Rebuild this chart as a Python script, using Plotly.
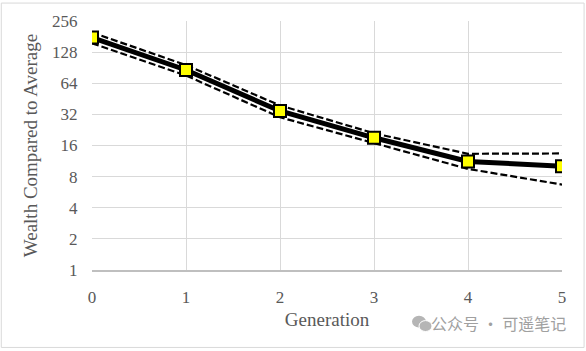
import plotly.graph_objects as go

generation = [0, 1, 2, 3, 4, 5]
wealth_mean = [177, 86, 34.5, 19, 11.2, 10.1]
wealth_upper = [198, 96, 39, 21, 13.3, 13.4]
wealth_lower = [156, 76, 30, 16.8, 9.5, 6.7]
y_ticks = [1, 2, 4, 8, 16, 32, 64, 128, 256]

font_family = "Liberation Serif, serif"
gray = "#595959"

fig = go.Figure()
fig.add_trace(go.Scatter(x=generation, y=wealth_upper, mode="lines",
                         line=dict(color="black", width=2.2, dash="7px,3px"), showlegend=False))
fig.add_trace(go.Scatter(x=generation, y=wealth_lower, mode="lines",
                         line=dict(color="black", width=2.2, dash="7px,3px"), showlegend=False))
fig.add_trace(go.Scatter(x=generation, y=wealth_mean, mode="lines+markers",
                         line=dict(color="black", width=5),
                         marker=dict(symbol="square", size=12, color="#ffff00",
                                     line=dict(color="black", width=2)),
                         showlegend=False))

fig.update_layout(
    width=586, height=351,
    margin=dict(l=92, r=24, t=19, b=81),
    paper_bgcolor="white", plot_bgcolor="white",
    font=dict(family=font_family, color=gray, size=17),
    xaxis=dict(range=[0, 5], tickvals=generation, showgrid=True, gridcolor="#d9d9d9",
               gridwidth=1, zeroline=False, showline=True, linecolor="#bfbfbf", linewidth=1.5,
               ticks="outside", ticklen=11, tickcolor="rgba(0,0,0,0)",
               title=dict(text="Generation", font=dict(size=19), standoff=7)),
    yaxis=dict(type="log", range=[0, 2.40824], tickvals=y_ticks,
               ticktext=[str(v) for v in y_ticks], showgrid=True, gridcolor="#d9d9d9",
               gridwidth=1, zeroline=False, showline=False,
               ticks="outside", ticklen=10, tickcolor="rgba(0,0,0,0)",
               title=dict(text="Wealth Compared to Average", font=dict(size=19), standoff=9)),
    shapes=[
        dict(type="rect", xref="paper", yref="paper",
             x0=-0.193, x1=1.047, y0=-0.311, y1=1.072,
             line=dict(color="#d9d9d9", width=1), fillcolor="rgba(0,0,0,0)", layer="below"),
        dict(type="circle", xref="paper", yref="paper",
             x0=(412 - 92) / 470, x1=(426 - 92) / 470,
             y0=(270 - 328) / 251, y1=(270 - 316) / 251,
             line=dict(width=0), fillcolor="#b5b5b5"),
        dict(type="circle", xref="paper", yref="paper",
             x0=(419 - 92) / 470, x1=(432 - 92) / 470,
             y0=(270 - 332) / 251, y1=(270 - 321) / 251,
             line=dict(color="white", width=1), fillcolor="#b5b5b5"),
    ],
    annotations=[dict(text="公众号 · 可遥笔记", xref="paper", yref="paper",
                      x=(568 - 92) / 470, y=(270 - 323) / 251, xanchor="right", yanchor="middle",
                      showarrow=False,
                      font=dict(family="Noto Sans CJK SC", size=16, color="#a0a0a0"))],
)

fig.write_html("out.html")
